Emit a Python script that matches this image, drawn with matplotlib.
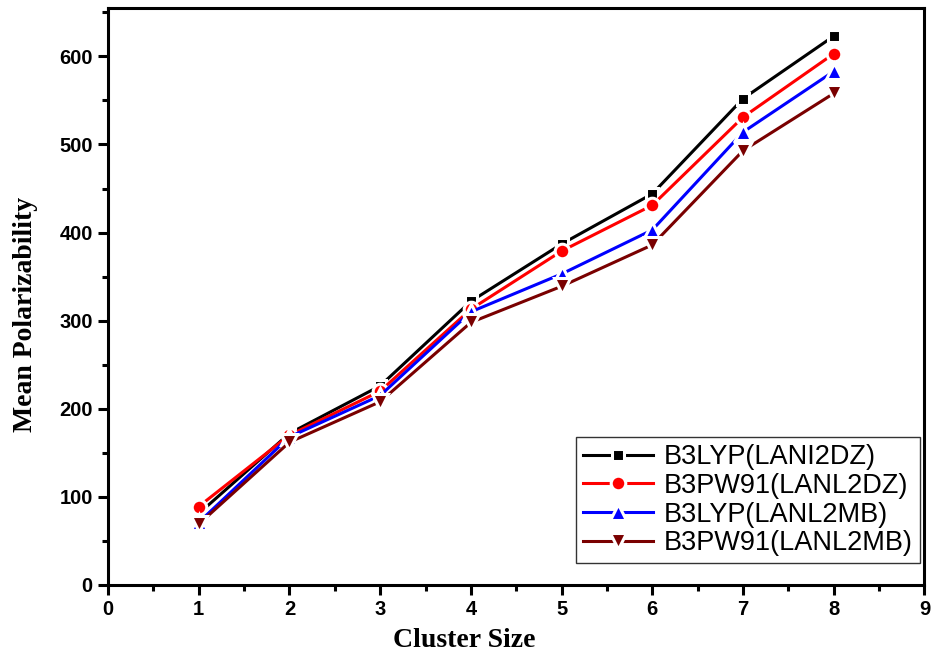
import numpy as np
import matplotlib.pyplot as plt
from matplotlib.ticker import MultipleLocator

cluster = [1, 2, 3, 4, 5, 6, 7, 8]
b3lyp_lanl2dz = [81, 172, 226, 322, 387, 444, 552, 623]
b3pw91_lanl2dz = [89, 170, 220, 313, 379, 431, 531, 603]
b3lyp_lanl2mb = [71, 168, 215, 310, 353, 403, 514, 583]
b3pw91_lanl2mb = [69, 162, 208, 298, 339, 386, 493, 558]

labels = ["B3LYP(LANI2DZ)", "B3PW91(LANL2DZ)", "B3LYP(LANL2MB)", "B3PW91(LANL2MB)"]
series = [b3lyp_lanl2dz, b3pw91_lanl2dz, b3lyp_lanl2mb, b3pw91_lanl2mb]
colors = ["black", "red", "blue", "#7a0000"]
markers = ["s", "o", "^", "v"]
msizes = [9, 10.5, 11, 11]

fig = plt.figure(figsize=(9.31, 6.58), dpi=100)
ax = fig.add_axes([0.116, 0.111, 0.877, 0.877])

for y, c, m, ms, lab in zip(series, colors, markers, msizes, labels):
    ax.plot(cluster, y, color=c, lw=2.2, marker=m, ms=ms,
            mfc=c, mec="white", mew=2.2, label=lab)

ax.set_xlim(0, 9)
ax.set_ylim(0, 655)
ax.xaxis.set_major_locator(MultipleLocator(1))
ax.xaxis.set_minor_locator(MultipleLocator(0.5))
ax.yaxis.set_major_locator(MultipleLocator(100))
ax.yaxis.set_minor_locator(MultipleLocator(50))
ax.tick_params(which="major", direction="out", length=7, width=2.2,
               top=False, right=False, pad=4)
ax.tick_params(which="minor", direction="out", length=4, width=2.2,
               top=False, right=False)
for lbl in ax.get_xticklabels() + ax.get_yticklabels():
    lbl.set_fontfamily("Liberation Sans")
    lbl.set_fontweight("bold")
    lbl.set_fontsize(14.5)
for s in ax.spines.values():
    s.set_linewidth(2.2)

ax.set_xlabel("Cluster Size", fontfamily="Liberation Serif", fontweight="bold",
              fontsize=20)
ax.set_ylabel("Mean Polarizability", fontfamily="Liberation Serif", fontweight="bold",
              fontsize=20)
# labels sit off-centre in the original
ax.xaxis.set_label_coords(0.436, -0.074)
ax.yaxis.set_label_coords(-0.086, 0.468)

leg = ax.legend(loc="lower right", bbox_to_anchor=(0.994, 0.038),
                prop={"family": "Liberation Sans", "size": 19.5},
                frameon=True, fancybox=False, edgecolor="black",
                handlelength=2.6, borderpad=0.25, labelspacing=0.1,
                handletextpad=0.4, borderaxespad=0.0)
leg.get_frame().set_linewidth(1.0)

fig.savefig("out.png", dpi=100)
